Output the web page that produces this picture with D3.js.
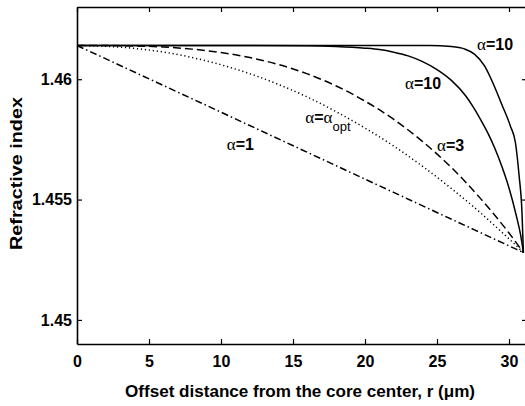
<!DOCTYPE html>
<html>
<head>
<meta charset="utf-8">
<script src="https://cdn.jsdelivr.net/npm/d3@7"></script>
<style>
  body { margin: 0; overflow: hidden; background: #fff; }
  text { font-family: "Liberation Sans", Arial, sans-serif; font-weight: bold; }
</style>
</head>
<body>
<div id="chart"></div>
<script>
// values (r in micrometres, refractive index)
const rAlpha1 = [0, 10, 20, 31];
const nAlpha1 = [1.4614, 1.45863, 1.45585, 1.4528];

const rGraded = [0, 2, 4, 6, 8, 10, 12, 14, 16, 18, 20, 22, 24, 26, 28, 29, 30, 31];
const nOpt = [1.4614, 1.46137, 1.46128, 1.46113, 1.4609, 1.4606, 1.46023, 1.45978, 1.45926,
  1.45865, 1.45797, 1.45722, 1.45638, 1.45546, 1.45446, 1.45392, 1.45337, 1.4528];
const nAlpha3 = [1.4614, 1.4614, 1.46138, 1.46134, 1.46125, 1.46111, 1.4609, 1.46061, 1.46022,
  1.45972, 1.45909, 1.45833, 1.45741, 1.45633, 1.45506, 1.45436, 1.45361, 1.4528];

const rAlpha10 = [0, 10, 16, 18, 20, 21, 22, 23, 24, 25, 26, 27, 27.5, 28, 28.5, 29, 29.5, 30, 30.5, 30.8, 31];
const nAlpha10 = [1.4614, 1.4614, 1.46139, 1.46136, 1.46129, 1.46123, 1.46112, 1.46097, 1.46073, 1.4604,
  1.45995, 1.4593, 1.45886, 1.45835, 1.4578, 1.45715, 1.45638, 1.45548, 1.45435, 1.45355, 1.4528];

const rSteep = [0, 20, 24.5, 26, 26.9, 27.6, 28.3, 28.95, 29.5, 30.1, 30.45, 30.7, 30.9, 31];
const nSteep = [1.4614, 1.4614, 1.4614, 1.46136, 1.46126, 1.46104, 1.46055, 1.45975, 1.45895,
  1.45805, 1.45735, 1.45600, 1.45449, 1.4528];

const xTicks = [0, 5, 10, 15, 20, 25, 30];
const yTicks = [1.45, 1.455, 1.46];
const yTickLabels = ["1.45", "1.455", "1.46"];

const width = 525, height = 406;
const margin = { left: 77, top: 7, right: -2, bottom: 62 };

const svg = d3.select("#chart").append("svg")
  .attr("width", width)
  .attr("height", height);

const x = d3.scaleLinear().domain([0, 31.25]).range([margin.left, width - margin.right]);
const y = d3.scaleLinear().domain([1.449, 1.463]).range([height - margin.bottom, margin.top]);

// curves
const line = d3.line()
  .x(d => x(d[0]))
  .y(d => y(d[1]))
  .curve(d3.curveMonotoneX);

const series = [
  { r: rAlpha1, n: nAlpha1, dash: "7,3,1.5,3" },
  { r: rGraded, n: nOpt, dash: "1.2,2.8" },
  { r: rGraded, n: nAlpha3, dash: "8,4" },
  { r: rAlpha10, n: nAlpha10, dash: null },
  { r: rSteep, n: nSteep, dash: null }
];

svg.selectAll(".curve")
  .data(series)
  .join("path")
  .attr("class", "curve")
  .attr("d", s => line(s.r.map((v, i) => [v, s.n[i]])))
  .attr("fill", "none")
  .attr("stroke", "#000")
  .attr("stroke-width", 1.5)
  .attr("stroke-dasharray", s => s.dash);

// axes, MATLAB style box with inward ticks
const fmtY = d => yTickLabels[yTicks.indexOf(d)];

const gB = svg.append("g").attr("transform", `translate(0,${y(1.449)})`)
  .call(d3.axisBottom(x).tickValues(xTicks).tickSizeInner(-5).tickSizeOuter(0).tickPadding(12));
const gT = svg.append("g").attr("transform", `translate(0,${y(1.463)})`)
  .call(d3.axisTop(x).tickValues(xTicks).tickSizeInner(-5).tickSizeOuter(0).tickFormat(""));
const gL = svg.append("g").attr("transform", `translate(${x(0)},0)`)
  .call(d3.axisLeft(y).tickValues(yTicks).tickFormat(fmtY).tickSizeInner(-5).tickSizeOuter(0).tickPadding(5));
const gR = svg.append("g").attr("transform", `translate(${x(31.25)},0)`)
  .call(d3.axisRight(y).tickValues(yTicks).tickSizeInner(-5).tickSizeOuter(0).tickFormat(""));

[gB, gT, gL, gR].forEach(g => {
  g.select(".domain").attr("stroke", "#000").attr("stroke-width", 1.6);
  g.selectAll(".tick line").attr("stroke", "#000").attr("stroke-width", 1.2);
  g.selectAll(".tick text").attr("fill", "#000")
    .style("font-size", "16px").style("font-family", "'Liberation Sans', Arial, sans-serif")
    .style("font-weight", "bold");
});

// axis titles
svg.append("text")
  .attr("x", 125)
  .attr("y", 397)
  .attr("textLength", 350)
  .attr("lengthAdjust", "spacingAndGlyphs")
  .style("font-size", "16px")
  .text("Offset distance from the core center, r (\u03bcm)");

svg.append("text")
  .attr("transform", `translate(22,250) rotate(-90)`)
  .attr("textLength", 153)
  .attr("lengthAdjust", "spacingAndGlyphs")
  .style("font-size", "17px")
  .text("Refractive index");

// curve labels
const labels = [
  { r: 27.78, n: 1.46121, t: "10" },
  { r: 22.78, n: 1.45959, t: "10" },
  { r: 25.0, n: 1.45702, t: "3" },
  { r: 10.4, n: 1.45706, t: "1" }
];
labels.forEach(l => {
  const t = svg.append("text").attr("x", x(l.r)).attr("y", y(l.n)).style("font-size", "16px");
  t.append("tspan").style("font-family", "'Liberation Serif', serif").style("font-weight", "normal").style("font-size", "17px").text("\u03b1");
  t.append("tspan").text("=" + l.t);
});

const opt = svg.append("text").attr("x", x(15.85)).attr("y", y(1.45818)).style("font-size", "16px");
opt.append("tspan").style("font-family", "'Liberation Serif', serif").style("font-weight", "normal").style("font-size", "17px").text("\u03b1");
opt.append("tspan").text("=");
opt.append("tspan").style("font-family", "'Liberation Serif', serif").style("font-weight", "normal").style("font-size", "17px").text("\u03b1");
opt.append("tspan").attr("dy", 8).style("font-size", "13px").style("font-weight", "normal").text("opt");
</script>
</body>
</html>
